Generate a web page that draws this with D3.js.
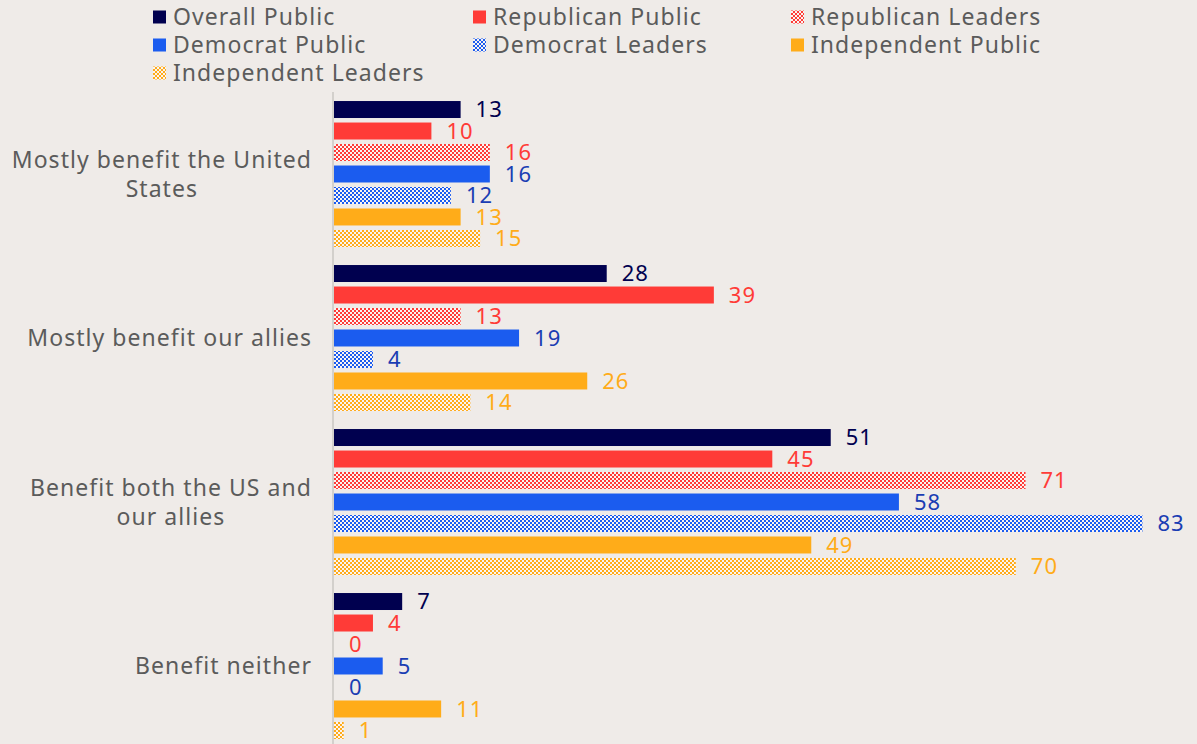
<!DOCTYPE html>
<html>
<head>
<meta charset="utf-8">
<script src="https://cdn.jsdelivr.net/npm/d3@7/dist/d3.min.js"></script>
<style>
  html, body { margin: 0; padding: 0; background: #efebe8; }
  svg { display: block; }
  text { font-family: "Noto Sans", "Open Sans", sans-serif; }
</style>
</head>
<body>
<svg id="chart" width="1197" height="744"></svg>
<script>
// Response categories (top to bottom)
const categories = [
  "Mostly benefit the United States",
  "Mostly benefit our allies",
  "Benefit both the US and our allies",
  "Benefit neither"
];
// Wrapped category labels
const categoryLines = [
  ["Mostly benefit the United", "States"],
  ["Mostly benefit our allies"],
  ["Benefit both the US and", "our allies"],
  ["Benefit neither"]
];

// Series names
const seriesNames = [
  "Overall Public",
  "Republican Public",
  "Republican Leaders",
  "Democrat Public",
  "Democrat Leaders",
  "Independent Public",
  "Independent Leaders"
];

// Percent values per series, one entry per category
const overallPublic      = [13, 28, 51, 7];
const republicanPublic   = [10, 39, 45, 4];
const republicanLeaders  = [16, 13, 71, 0];
const democratPublic     = [16, 19, 58, 5];
const democratLeaders    = [12, 4, 83, 0];
const independentPublic  = [13, 26, 49, 11];
const independentLeaders = [15, 14, 70, 1];

const seriesValues = [
  overallPublic, republicanPublic, republicanLeaders,
  democratPublic, democratLeaders, independentPublic, independentLeaders
];

// Styling per series
const NAVY = "#00004f", RED = "#ff3b37", BLUE = "#1b5cef", ORANGE = "#ffac19";
const seriesStyle = [
  { color: NAVY,   label: NAVY,      hatch: false },
  { color: RED,    label: RED,       hatch: false },
  { color: RED,    label: RED,       hatch: true  },
  { color: BLUE,   label: "#1a3db3", hatch: false },
  { color: BLUE,   label: "#1a3db3", hatch: true  },
  { color: ORANGE, label: ORANGE,    hatch: false },
  { color: ORANGE, label: ORANGE,    hatch: true  }
];

const svg = d3.select("#chart");
const defs = svg.append("defs");

// Checkerboard fills for the "Leaders" series
function checker(id, color) {
  const p = defs.append("pattern")
    .attr("id", id)
    .attr("patternUnits", "userSpaceOnUse")
    .attr("width", 4).attr("height", 4);
  p.append("rect").attr("width", 4).attr("height", 4).attr("fill", "#faf4f2");
  p.append("rect").attr("x", 0).attr("y", 0).attr("width", 2).attr("height", 2).attr("fill", color);
  p.append("rect").attr("x", 2).attr("y", 2).attr("width", 2).attr("height", 2).attr("fill", color);
  return `url(#${id})`;
}
const fills = seriesStyle.map((s, i) => s.hatch ? checker("chk" + i, s.color) : s.color);

// Scales
const plotLeft = 334;
const x = d3.scaleLinear().domain([0, 100]).range([plotLeft, plotLeft + 974]);
const y0 = d3.scaleBand().domain(categories).range([92, 748]).paddingInner(0).paddingOuter(0);
const y1 = d3.scaleBand().domain(seriesNames).range([0, y0.bandwidth()])
  .paddingInner(0.21).paddingOuter(0.42);

const TEXT = "#5b5b5b";

// Vertical baseline
svg.append("line")
  .attr("x1", plotLeft - 1).attr("x2", plotLeft - 1)
  .attr("y1", 92).attr("y2", 744)
  .attr("stroke", "#d3d0cc").attr("stroke-width", 2);

// Bars and value labels
const groups = svg.append("g").selectAll("g")
  .data(categories)
  .join("g")
  .attr("transform", d => `translate(0,${y0(d)})`);

groups.each(function (cat, ci) {
  const g = d3.select(this);
  const rows = seriesNames.map((s, si) => ({ s, si, v: seriesValues[si][ci] }));
  g.selectAll("rect")
    .data(rows)
    .join("rect")
    .attr("x", x(0))
    .attr("y", d => y1(d.s))
    .attr("width", d => x(d.v) - x(0))
    .attr("height", y1.bandwidth())
    .attr("fill", d => fills[d.si]);
  g.selectAll("text")
    .data(rows)
    .join("text")
    .attr("x", d => x(d.v) + 15)
    .attr("y", d => y1(d.s) + y1.bandwidth() / 2)
    .attr("dy", "0.36em")
    .attr("fill", d => seriesStyle[d.si].label)
    .attr("font-size", 22)
    .attr("letter-spacing", 1)
    .text(d => d.v);
});

// Category labels, right-aligned block with centred lines
const catG = svg.append("g");
categories.forEach((cat, ci) => {
  const lines = categoryLines[ci];
  const cy = y0(cat) + y0.bandwidth() / 2;
  const lh = 29;
  const t = catG.append("text")
    .attr("font-size", 23)
    .attr("letter-spacing", 1.05)
    .attr("fill", TEXT)
    .attr("text-anchor", "middle");
  lines.forEach((ln, li) => {
    t.append("tspan").attr("y", cy + (li - (lines.length - 1) / 2) * lh).attr("dy", "0.36em").text(ln);
  });
  // centre every line on the middle of the widest line, whose right edge sits at 312
  let maxW = 0;
  t.selectAll("tspan").each(function () { maxW = Math.max(maxW, this.getComputedTextLength()); });
  t.selectAll("tspan").attr("x", 312 - maxW / 2);
});

// Legend
const legendCols = [153, 473, 791];
const legendRows = [17, 45, 73];
const legend = svg.append("g");
seriesNames.forEach((name, i) => {
  const col = i % 3, row = Math.floor(i / 3);
  const lg = legend.append("g").attr("transform", `translate(${legendCols[col]},${legendRows[row]})`);
  lg.append("rect").attr("x", 0).attr("y", -6.5).attr("width", 13).attr("height", 13).attr("fill", fills[i]);
  lg.append("text").attr("x", 20).attr("y", 0).attr("dy", "0.36em")
    .attr("font-size", 23).attr("letter-spacing", 1.05).attr("fill", TEXT).text(name);
});
</script>
</body>
</html>
